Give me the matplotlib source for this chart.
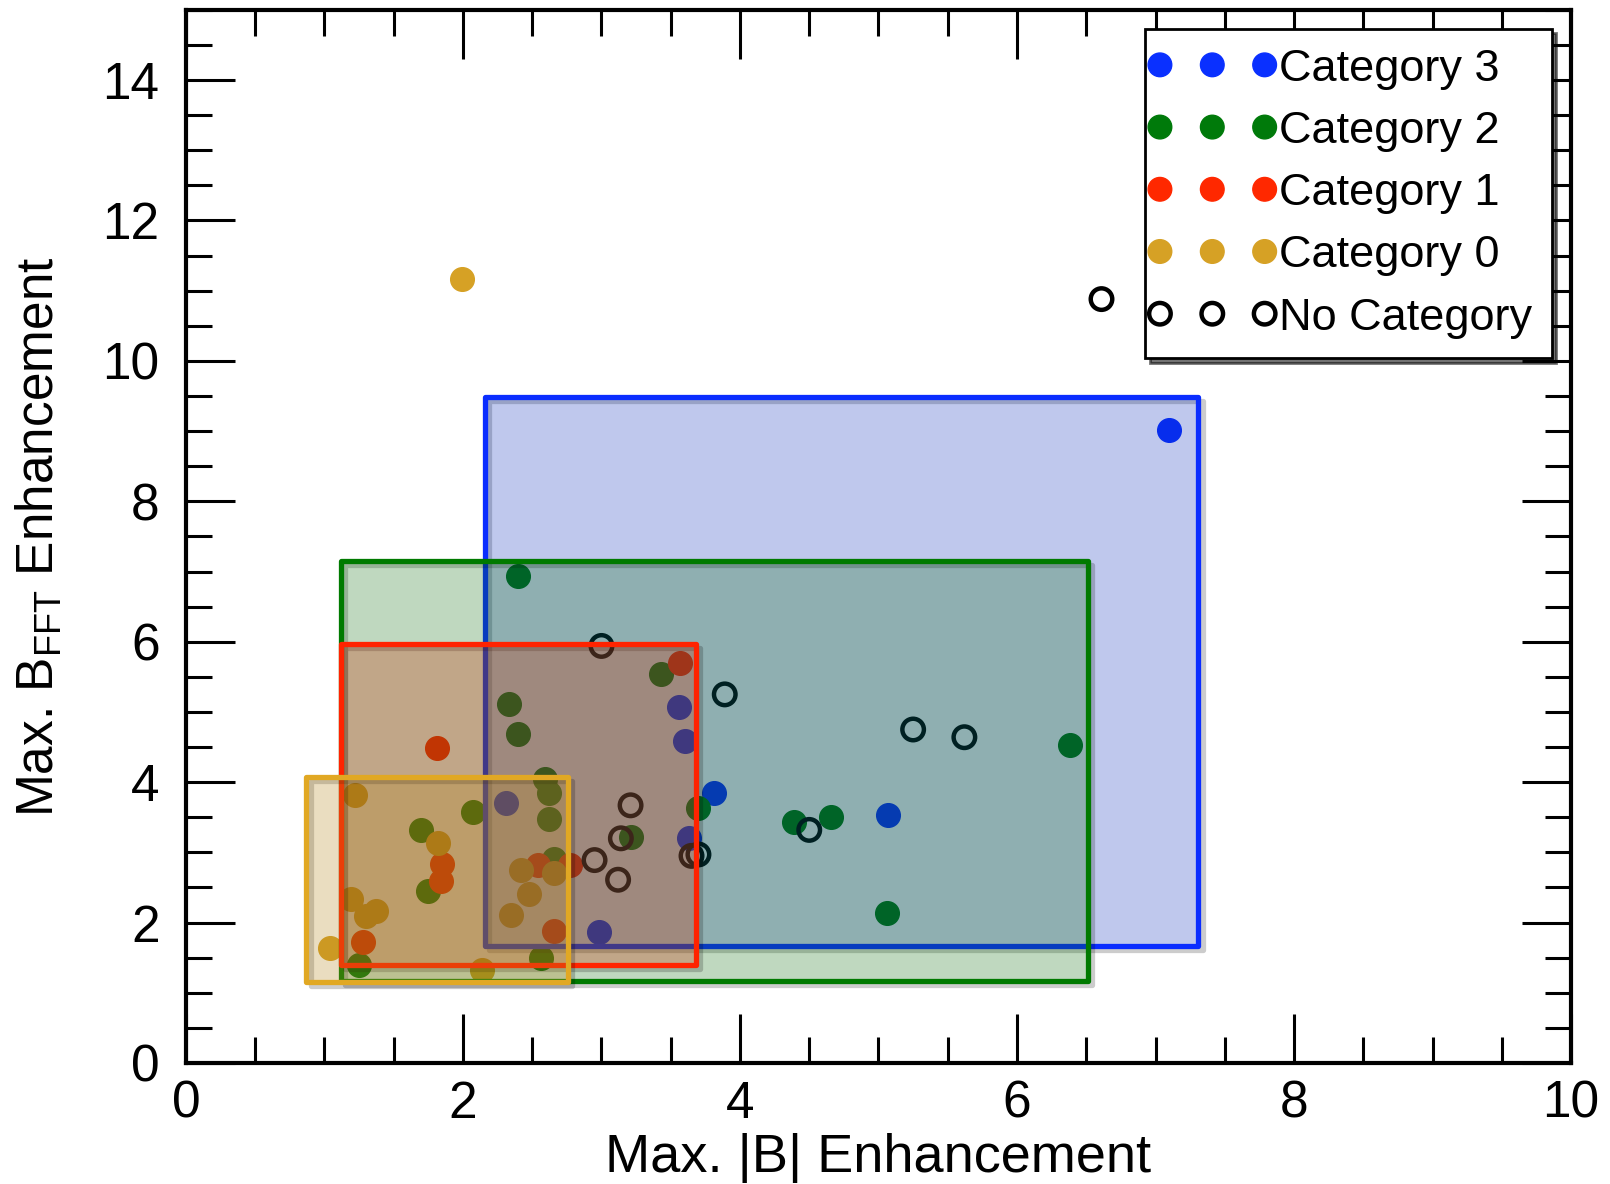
import matplotlib
matplotlib.use("Agg")
import matplotlib.pyplot as plt
import matplotlib.patheffects as pe
from matplotlib.patches import Rectangle
from matplotlib.collections import PathCollection
from matplotlib.legend_handler import HandlerPathCollection
from matplotlib.ticker import MultipleLocator

plt.rcParams['font.family'] = ['Liberation Sans', 'DejaVu Sans']

# events per category: max |B| enhancement (x), max B_FFT enhancement (y)
cat3_x = [7.10, 3.56, 3.60, 3.81, 2.31, 3.63, 2.98, 5.07]
cat3_y = [9.01, 5.07, 4.59, 3.84, 3.70, 3.21, 1.86, 3.53]

cat2_x = [3.43, 2.33, 2.40, 2.59, 2.62, 2.07, 3.70, 2.62, 1.70, 3.21,
          1.75, 2.66, 1.25, 2.56, 6.38, 4.39, 4.66, 5.06, 2.40]
cat2_y = [5.54, 5.12, 4.69, 4.04, 3.84, 3.57, 3.63, 3.48, 3.32, 3.22,
          2.45, 2.90, 1.39, 1.49, 4.53, 3.43, 3.51, 2.14, 6.93]

cat1_x = [3.57, 1.81, 1.85, 1.84, 2.54, 2.77, 2.66, 1.28]
cat1_y = [5.70, 4.48, 2.83, 2.59, 2.82, 2.82, 1.88, 1.72]

cat0_x = [1.22, 1.82, 2.42, 2.66, 2.48, 2.35, 1.19, 1.30, 1.37, 1.04, 2.14, 1.99]
cat0_y = [3.82, 3.13, 2.75, 2.70, 2.41, 2.11, 2.34, 2.09, 2.17, 1.64, 1.32, 11.16]

nocat_x = [3.00, 3.89, 3.21, 3.14, 3.65, 3.70, 2.95, 3.12, 5.25, 5.62, 4.50, 6.61]
nocat_y = [5.94, 5.25, 3.67, 3.20, 2.95, 2.97, 2.89, 2.61, 4.75, 4.64, 3.32, 10.88]

# range boxes per category: (x0, x1, y0, y1)
box3 = (2.16, 7.31, 1.67, 9.49)
box2 = (1.12, 6.51, 1.17, 7.15)
box1 = (1.12, 3.68, 1.40, 5.97)
box0 = (0.87, 2.76, 1.16, 4.07)

c3, c2, c1, c0 = '#0A30FF', '#007A0A', '#FF2800', '#D6A125'

fig = plt.figure(figsize=(16.1, 11.84), dpi=100)
ax = fig.add_axes([0.1155, 0.1022, 0.8603, 0.8895])

ms = 290
ax.scatter(cat3_x, cat3_y, s=ms, color=c3, zorder=1, label='Category 3')
ax.scatter(cat2_x, cat2_y, s=ms, color=c2, zorder=1, label='Category 2')
ax.scatter(cat1_x, cat1_y, s=ms, color=c1, zorder=1, label='Category 1')
ax.scatter(cat0_x, cat0_y, s=ms, color=c0, zorder=1, label='Category 0')
ax.scatter(nocat_x, nocat_y, s=240, facecolors='none', edgecolors='k',
           linewidths=3.2, zorder=1, label='No Category')

boxes = [(box3, '#0A2DFF', (0.0, 0.15, 0.72, 0.25)),
         (box2, '#007A00', (0.0, 0.40, 0.0, 0.25)),
         (box1, '#FF2300', (0.78, 0.20, 0.04, 0.30)),
         (box0, '#E1A823', (0.71, 0.53, 0.12, 0.28))]
for i, (b, ec, fc) in enumerate(boxes):
    x0, x1, y0, y1 = b
    r = Rectangle((x0, y0), x1 - x0, y1 - y0, facecolor=fc, edgecolor=ec,
                  linewidth=3.8, joinstyle='round', zorder=2 + i)
    r.set_path_effects([pe.SimpleLineShadow(offset=(3, -3), shadow_color='k', alpha=0.2),
                        pe.Normal()])
    ax.add_patch(r)

ax.set_xlim(0, 10)
ax.set_ylim(0, 15)
ax.xaxis.set_major_locator(MultipleLocator(2))
ax.xaxis.set_minor_locator(MultipleLocator(0.5))
ax.yaxis.set_major_locator(MultipleLocator(2))
ax.yaxis.set_minor_locator(MultipleLocator(0.5))
ax.set_yticks([0, 2, 4, 6, 8, 10, 12, 14])
ax.tick_params(which='both', direction='in', top=True, right=True, width=2.2,
               labelsize=37)
ax.tick_params(axis='x', pad=12)
ax.tick_params(axis='y', pad=19)
ax.tick_params(which='major', length=35)
ax.tick_params(which='minor', length=19)
for s in ax.spines.values():
    s.set_linewidth(3)

ax.set_xlabel('Max. |B| Enhancement', fontsize=39, labelpad=3)
ax.set_ylabel(r'Max. $\mathregular{B_{FFT}}$ Enhancement', fontsize=37, labelpad=27)

leg = ax.legend(loc='upper right', fontsize=32.5, scatterpoints=3,
                handler_map={PathCollection: HandlerPathCollection(numpoints=3, marker_pad=-0.12)},
                frameon=True, fancybox=False, edgecolor='k', framealpha=1,
                shadow={'ox': 3, 'oy': -3, 'color': 'k', 'alpha': 0.55},
                handlelength=2.08, handletextpad=0.44, labelspacing=0.47,
                borderpad=0.44, borderaxespad=0.42, scatteryoffsets=[0.5])
leg.get_frame().set_linewidth(2)
leg.set_zorder(10)

fig.savefig('out.png', dpi=100)
